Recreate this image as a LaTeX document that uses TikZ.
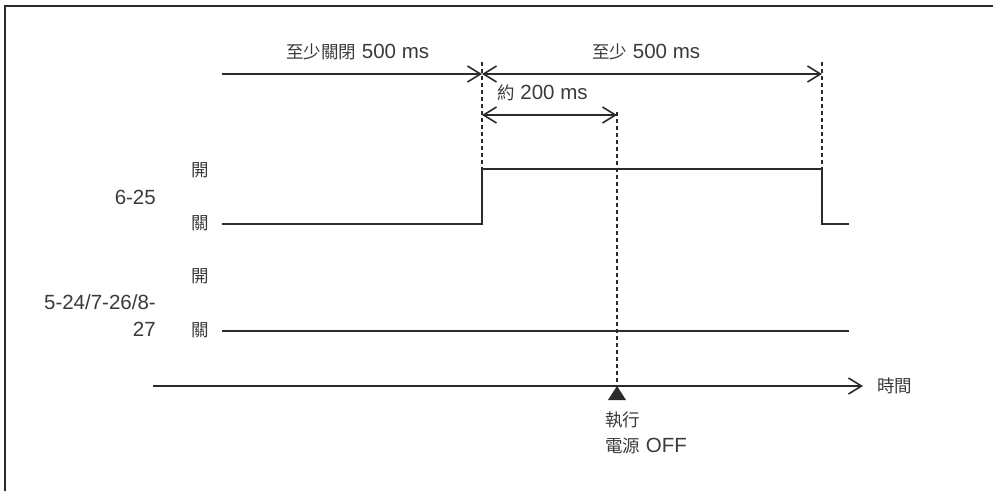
\documentclass[tikz,border=0pt]{standalone}
\usepackage{fontspec}
\setmainfont{Liberation Sans}
\newfontfamily\cjk{Noto Sans CJK TC}
\newcommand\zh[1]{{\cjk\fontsize{17.5}{21}\selectfont #1}}
\usetikzlibrary{arrows.meta}
\definecolor{ink}{HTML}{2B2B2B}
\definecolor{txt}{HTML}{3A3A3A}
\tikzset{
  sig/.style={draw=ink,line width=1.6pt},
  dimline/.style={draw=ink,line width=1.6pt},
  guide/.style={draw=ink,line width=1.5pt,dash pattern=on 4pt off 3pt},
  lbl/.style={text=txt,font=\fontsize{20.5}{24}\selectfont,inner sep=0pt},
  barb/.tip={Straight Barb[length=13pt,width=16pt,line width=1.6pt]}
}
\begin{document}
\begin{tikzpicture}[x=1pt,y=-1pt]
\useasboundingbox (0,0) rectangle (993,491);
\draw[draw=ink,line width=2pt] (5,491) -- (5,5.5) -- (993,5.5);
% coordinates
\coordinate (t0) at (222,74);
\coordinate (tA) at (482,74);
\coordinate (tB) at (822,74);
\coordinate (a0) at (482,115);
\coordinate (a1) at (617,115);
\coordinate (gA0) at (482,62);
\coordinate (gA1) at (482,169);
\coordinate (gB0) at (822,62);
\coordinate (gB1) at (822,169);
\coordinate (gC0) at (617,112);
\coordinate (gC1) at (617,386);
\coordinate (ax0) at (153,386);
\coordinate (ax1) at (863,386);
% guides
\draw[guide] (gA0) -- (gA1);
\draw[guide] (gB0) -- (gB1);
\draw[guide] (gC0) -- (gC1);
% dimension arrows
\draw[dimline,-barb] (t0) -- (tA);
\draw[dimline,barb-barb] (tA) -- (tB);
\draw[dimline,barb-barb] (a0) -- (a1);
% signals
\draw[sig] (222,224) -- (482,224) -- (482,169) -- (822,169) -- (822,224) -- (849,224);
\draw[sig] (222,331) -- (849,331);
% time axis
\draw[sig,-barb] (ax0) -- (ax1);
\fill[ink] (617,386) -- (608,400) -- (626,400) -- cycle;
% labels
\node[lbl,anchor=west] (l1) at (286,52) {\zh{至少關閉} 500 ms};
\node[lbl,anchor=west] (l2) at (592,52) {\zh{至少} 500 ms};
\node[lbl,anchor=west] (l3) at (497,93) {\zh{約} 200 ms};
\node[lbl] (o1) at (200,170) {\zh{開}};
\node[lbl] (c1) at (200,223) {\zh{關}};
\node[lbl] (o2) at (200,276) {\zh{開}};
\node[lbl] (c2) at (200,330) {\zh{關}};
\node[lbl,anchor=east] (n1) at (156,197) {6-25};
\node[lbl,anchor=east] (n2) at (156,302) {5-24/7-26/8-};
\node[lbl,anchor=east] (n3) at (156,329) {27};
\node[lbl,anchor=west] (tm) at (877,386) {\zh{時間}};
\node[lbl,anchor=west] (e1) at (605,420) {\zh{執行}};
\node[lbl,anchor=west] (e2) at (605,446) {\zh{電源} OFF};
\end{tikzpicture}
\end{document}
